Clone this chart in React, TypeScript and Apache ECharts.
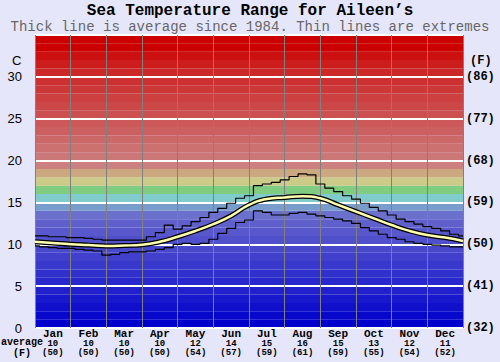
import React, { useEffect, useRef } from 'react';
import * as echarts from 'echarts';

const MONTHS = ['Jan', 'Feb', 'Mar', 'Apr', 'May', 'Jun', 'Jul', 'Aug', 'Sep', 'Oct', 'Nov', 'Dec'];
const AVG_C = [10, 10, 10, 10, 12, 14, 15, 16, 15, 13, 12, 11];
const AVG_F = [50, 50, 50, 50, 54, 57, 59, 61, 59, 55, 54, 52];
const F_TICKS = ['(32)', '(41)', '(50)', '(59)', '(68)', '(77)', '(86)'];

// positions in months (0 = start of Jan, 12 = end of Dec)
const EXT_POS = [
  0, 0.25, 0.5, 0.75, 1, 1.25, 1.5, 1.75, 2, 2.25, 2.5, 2.75, 3, 3.25, 3.5, 3.75,
  4, 4.25, 4.5, 4.75, 5, 5.25, 5.5, 5.75, 6, 6.25, 6.5, 6.75, 7, 7.25, 7.5, 7.75,
  8, 8.25, 8.5, 8.75, 9, 9.25, 9.5, 9.75, 10, 10.25, 10.5, 10.75, 11, 11.25, 11.5, 11.75, 12,
];
const MAX_T = [
  11.0, 11.0, 10.9, 10.9, 10.8, 10.8, 10.7, 10.6, 10.5, 10.5, 10.5, 10.5, 10.5, 10.9, 11.4, 12.3,
  11.8, 12.2, 12.7, 13.2, 13.8, 14.3, 14.9, 15.5, 15.8, 17.0, 17.2, 17.4, 17.7, 18.1, 18.4, 18.3,
  17.2, 16.7, 16.3, 15.8, 15.4, 14.9, 14.4, 14.0, 13.5, 13.0, 12.7, 12.4, 12.1, 11.9, 11.6, 11.2, 11.0,
];
const MIN_T = [
  9.8, 9.7, 9.6, 9.5, 9.5, 9.4, 9.3, 9.2, 8.7, 8.8, 9.0, 9.1, 9.1, 9.2, 9.4, 9.6,
  10.0, 10.1, 10.0, 10.1, 10.6, 11.3, 11.9, 12.6, 12.9, 14.0, 13.8, 13.5, 13.5, 13.7, 13.8, 13.6,
  13.4, 13.2, 13.0, 12.8, 12.5, 12.0, 11.6, 11.2, 10.8, 10.6, 10.3, 10.1, 10.0, 9.9, 9.8, 9.7, 9.7,
];
const AVG_POS = [0, 0.5, 1, 1.5, 2, 2.5, 3, 3.5, 4, 4.5, 5, 5.5, 6, 6.5, 7, 7.5, 8, 8.5, 9, 9.5, 10, 10.5, 11, 11.5, 12];
const AVG_T = [
  10.3, 10.15, 10.0, 9.9, 9.8, 9.85, 9.95, 10.3, 10.9, 11.6, 12.4, 13.4, 14.7,
  15.4, 15.6, 15.75, 15.5, 14.7, 13.9, 13.1, 12.3, 11.6, 11.1, 10.8, 10.4,
];

// one colour per degree band, from 0-1 up to 34-35
const BAND_COLORS = [
  '#0000cc', '#0808cc', '#1010cc', '#1818cc', '#2020cc', '#2828cc', '#3030cc', '#3838cc',
  '#4040cc', '#4848cc', '#5050cc', '#5858cc', '#6060cc', '#6a70cc', '#789ccc', '#80cccc',
  '#80cc80', '#cccc88', '#cca880', '#cc8080', '#cc7878', '#cc7070', '#cc6868', '#cc6060',
  '#cc5858', '#cc5050', '#cc4848', '#cc4040', '#cc3838', '#cc3030', '#cc2828', '#cc1c1c',
  '#cc1010', '#cc0000', '#cc0000',
];

const MONO = '"Liberation Mono", "DejaVu Sans Mono", monospace';
const SANS = '"Liberation Sans", Arial, sans-serif';

function pairs(xs: number[], ys: number[]) {
  return xs.map((x, i) => [x, ys[i]]);
}

export default function App() {
  const ref = useRef<HTMLDivElement>(null);
  useEffect(() => {
    const chart = echarts.init(ref.current!, null, { renderer: 'svg' });
    const bandData = BAND_COLORS.map((c, i) => [
      { yAxis: i, itemStyle: { color: c, opacity: 1, borderWidth: 0 } },
      { yAxis: i + 1 },
    ]);
    chart.setOption({
      animation: false,
      backgroundColor: '#e6e6fa',
      title: [
        {
          text: 'Sea Temperature Range for Aileen\u2019s',
          left: 'center',
          top: 3,
          padding: 0,
          textStyle: { fontFamily: MONO, fontSize: 16, fontWeight: 'bold', color: '#000', lineHeight: 16 },
        },
        {
          text: 'Thick line is average since 1984. Thin lines are extremes',
          left: 'center',
          top: 20,
          padding: 0,
          textStyle: { fontFamily: MONO, fontSize: 14, fontWeight: 'normal', color: '#666', lineHeight: 14 },
        },
      ],
      grid: { left: 35, right: 37, top: 35, bottom: 34 },
      xAxis: [
        {
          type: 'category',
          data: MONTHS,
          boundaryGap: true,
          z: 3,
          axisLine: { show: false },
          axisTick: { show: false },
          splitLine: { show: true, interval: 0, lineStyle: { color: '#808080', width: 1 } },
          axisLabel: {
            interval: 0,
            margin: 0,
            formatter: (v: string, i: number) => `{m|${v}}\n{n|${AVG_C[i]}}\n{n|(${AVG_F[i]})}`,
            rich: {
              m: { fontFamily: MONO, fontSize: 11, fontWeight: 'bold', color: '#000', lineHeight: 11 },
              n: { fontFamily: MONO, fontSize: 9, fontWeight: 'bold', color: '#000', lineHeight: 9 },
            },
          },
        },
        { type: 'value', min: 0, max: 12, show: false },
      ],
      yAxis: [
        {
          type: 'value',
          min: 0,
          max: 35,
          interval: 5,
          z: 3,
          axisLine: { show: false },
          axisTick: { show: false },
          splitLine: { show: true, lineStyle: { color: '#ffffff', width: 2 } },
          axisLabel: {
            margin: 13,
            fontFamily: SANS,
            fontSize: 13,
            color: '#000',
            formatter: (v: number) => (v >= 35 ? '' : String(v)),
          },
        },
        {
          type: 'value',
          position: 'right',
          min: 0,
          max: 35,
          interval: 5,
          axisLine: { show: false },
          axisTick: { show: false },
          splitLine: { show: false },
          axisLabel: {
            margin: 3,
            fontFamily: MONO,
            fontSize: 12,
            fontWeight: 'bold',
            color: '#000',
            formatter: (v: number) => (v >= 35 ? '' : F_TICKS[v / 5]),
          },
        },
      ],
      graphic: [
        { type: 'text', left: 12, top: 54, style: { text: 'C', font: `13px ${SANS}`, fill: '#000' } },
        { type: 'text', left: 470, top: 55, style: { text: '(F)', font: `bold 12px ${MONO}`, fill: '#000' } },
        { type: 'text', left: 1, top: 337, style: { text: 'average', font: `bold 10px ${MONO}`, fill: '#000' } },
        { type: 'text', left: 13, top: 348, style: { text: '(F)', font: `bold 10px ${MONO}`, fill: '#000' } },
      ],
      series: [
        {
          type: 'line',
          xAxisIndex: 1,
          yAxisIndex: 0,
          z: 1,
          silent: true,
          data: pairs(AVG_POS, AVG_T),
          showSymbol: false,
          lineStyle: { opacity: 0 },
          markArea: { silent: true, label: { show: false }, data: bandData },
        },
        {
          type: 'line',
          xAxisIndex: 1,
          yAxisIndex: 0,
          z: 5,
          data: pairs(EXT_POS, MAX_T),
          step: 'middle',
          showSymbol: false,
          lineStyle: { color: '#000', width: 1.2 },
        },
        {
          type: 'line',
          xAxisIndex: 1,
          yAxisIndex: 0,
          z: 5,
          data: pairs(EXT_POS, MIN_T),
          step: 'middle',
          showSymbol: false,
          lineStyle: { color: '#000', width: 1.2 },
        },
        {
          type: 'line',
          xAxisIndex: 1,
          yAxisIndex: 0,
          z: 6,
          data: pairs(AVG_POS, AVG_T),
          smooth: true,
          showSymbol: false,
          lineStyle: { color: '#000', width: 5 },
        },
        {
          type: 'line',
          xAxisIndex: 1,
          yAxisIndex: 0,
          z: 7,
          data: pairs(AVG_POS, AVG_T),
          smooth: true,
          showSymbol: false,
          lineStyle: { color: '#ffffb0', width: 2.5 },
        },
      ],
    });
    return () => chart.dispose();
  }, []);
  return <div ref={ref} style={{ position: 'absolute', left: 0, top: 0, width: 500, height: 362 }} />;
}
